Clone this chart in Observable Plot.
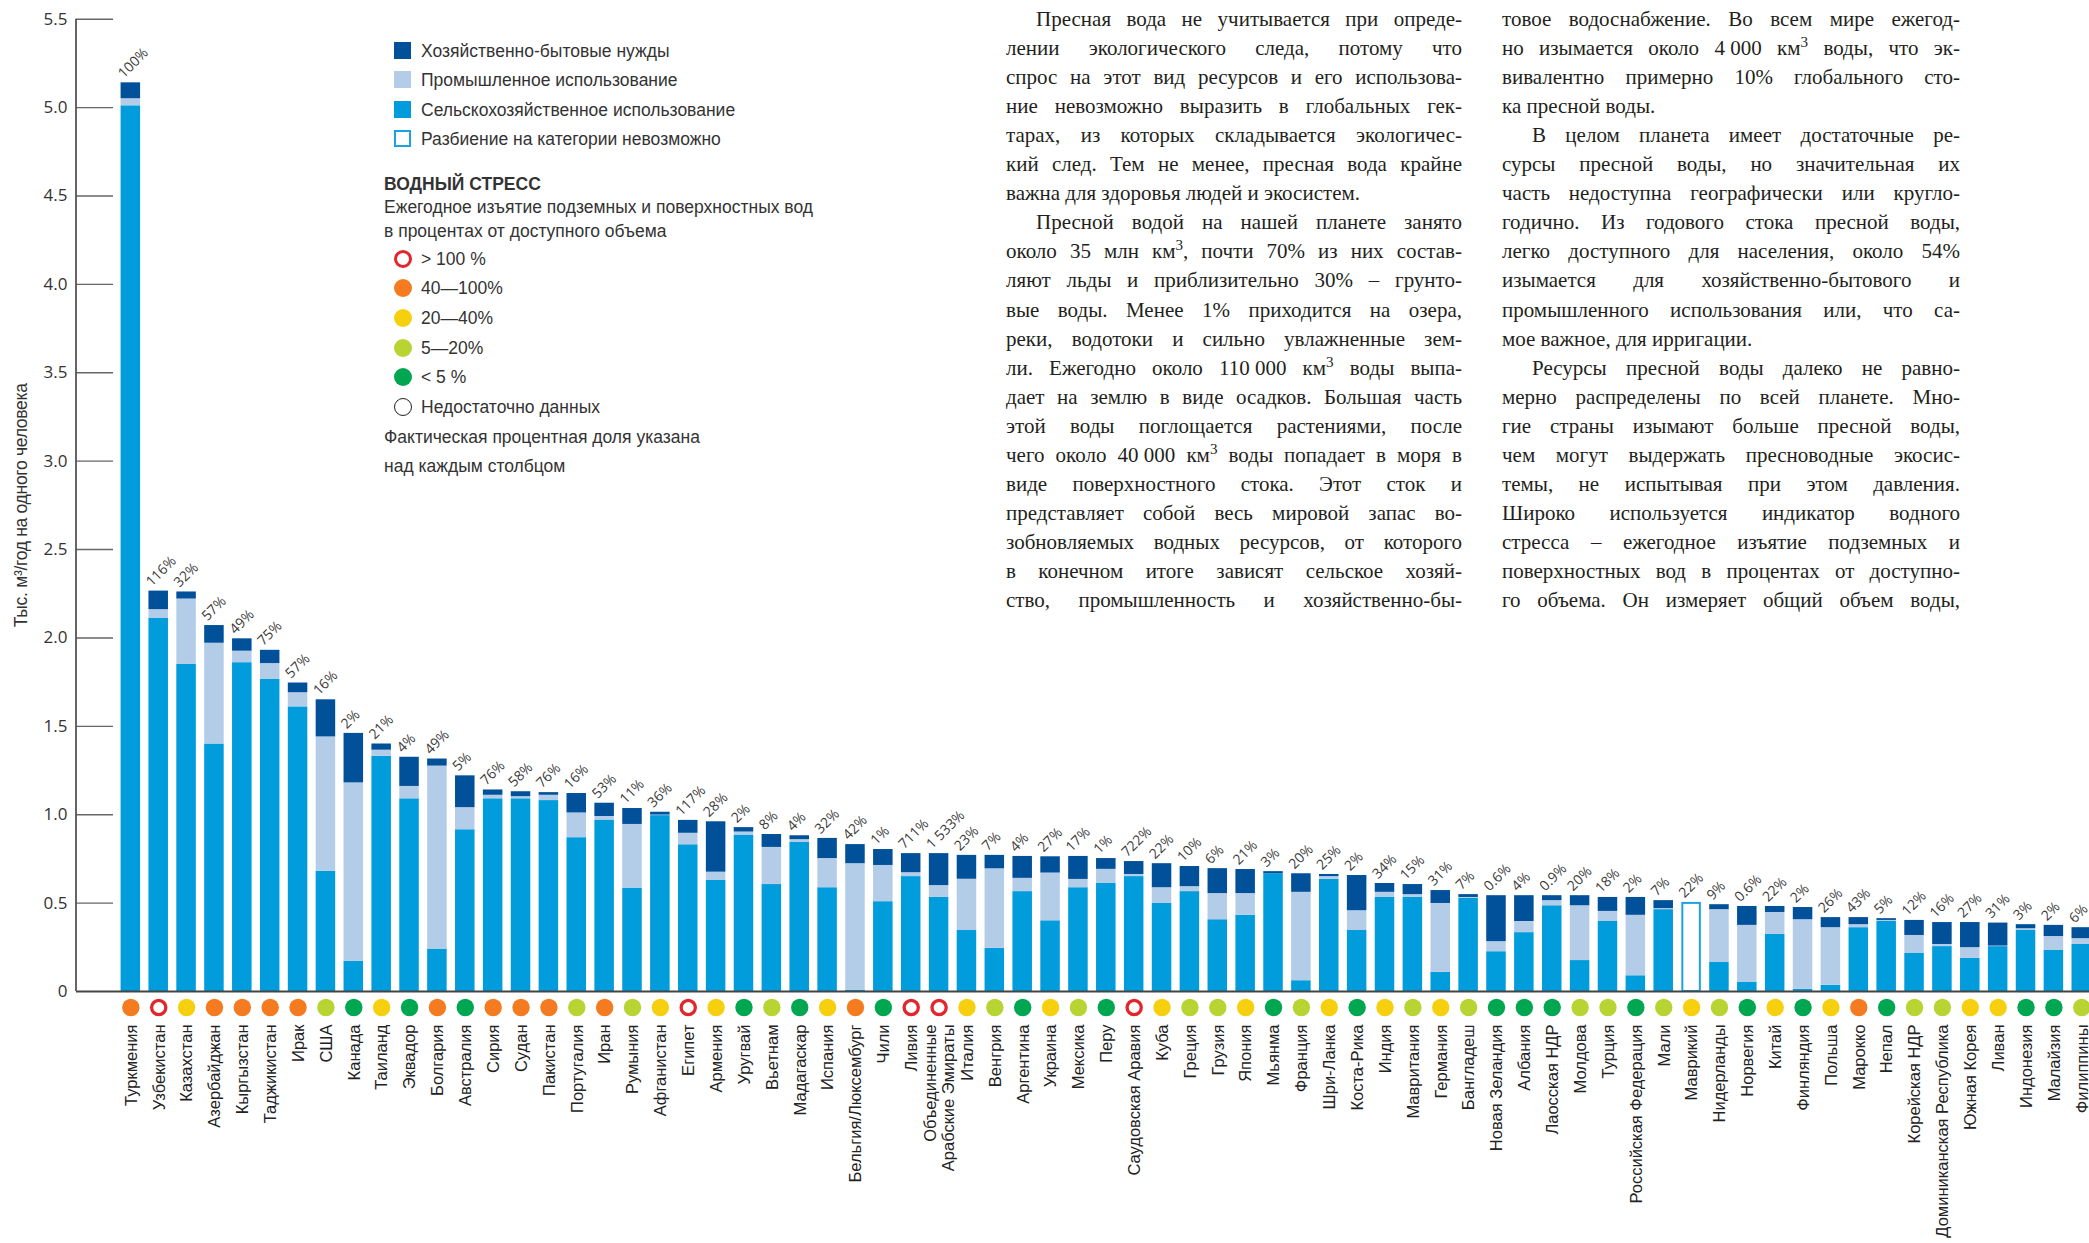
<!DOCTYPE html>
<html lang="ru">
<head>
<meta charset="utf-8">
<script src="https://cdn.jsdelivr.net/npm/d3@7"></script>
<script src="https://cdn.jsdelivr.net/npm/@observablehq/plot@0.6"></script>
<style>
  html, body { margin: 0; padding: 0; background: #fff; overflow: hidden; }
  #wrap { position: relative; width: 2089px; height: 1243px; overflow: hidden; background: #fff; }
  #chart { position: absolute; left: 0; top: 0; }
  .lg { position: absolute; font-family: "Liberation Sans", Arial, sans-serif; font-size: 17.5px; line-height: 22px; color: #333; white-space: nowrap; }
  .sw { position: absolute; width: 17px; height: 17px; box-sizing: border-box; }
  .cc { position: absolute; width: 18px; height: 18px; border-radius: 50%; box-sizing: border-box; }
  .col { position: absolute; font-family: "Liberation Serif", "Times New Roman", serif; font-size: 21px; line-height: 29.1px; color: #231f20; }
  .col div { text-align: justify; text-align-last: justify; white-space: nowrap; }
  .col div.ind { text-indent: 30px; }
  .col div.last { text-align: left; text-align-last: left; }
  .col sup { font-size: 0.72em; vertical-align: 0.5em; line-height: 0; }
  .nb { display: inline-block; white-space: pre; text-indent: 0; }
  g[aria-label="y-axis label"] text, g[aria-label="y-axis"] text.label {
    font-family: "Liberation Sans", Arial, sans-serif; font-size: 17.5px; letter-spacing: -0.3px; fill: #333;
  }
</style>
</head>
<body>
<div id="wrap">
  <div id="chart"></div>

  <div class="sw" style="left:394px;top:42px;background:#00509a"></div>
  <div class="lg" style="left:421px;top:40px">Хозяйственно-бытовые нужды</div>
  <div class="sw" style="left:394px;top:71px;background:#b3cde9"></div>
  <div class="lg" style="left:421px;top:69px">Промышленное использование</div>
  <div class="sw" style="left:394px;top:101px;background:#009cdc"></div>
  <div class="lg" style="left:421px;top:99px">Сельскохозяйственное использование</div>
  <div class="sw" style="left:394px;top:130px;border:2.5px solid #1aa3e0;background:#fff"></div>
  <div class="lg" style="left:421px;top:128px">Разбиение на категории невозможно</div>

  <div class="lg" style="left:384px;top:173px;font-weight:bold">ВОДНЫЙ СТРЕСС</div>
  <div class="lg" style="left:384px;top:196px">Ежегодное изъятие подземных и поверхностных вод</div>
  <div class="lg" style="left:384px;top:220px">в процентах от доступного объема</div>

  <div class="cc" style="left:394px;top:250px;border:3.3px solid #e2262c;background:#fff"></div>
  <div class="lg" style="left:421px;top:248px">&gt; 100 %</div>
  <div class="cc" style="left:394px;top:279px;background:#f47b20"></div>
  <div class="lg" style="left:421px;top:277px">40—100%</div>
  <div class="cc" style="left:394px;top:309px;background:#f6d00f"></div>
  <div class="lg" style="left:421px;top:307px">20—40%</div>
  <div class="cc" style="left:394px;top:339px;background:#b7d433"></div>
  <div class="lg" style="left:421px;top:337px">5—20%</div>
  <div class="cc" style="left:394px;top:368px;background:#00a650"></div>
  <div class="lg" style="left:421px;top:366px">&lt; 5 %</div>
  <div class="cc" style="left:394px;top:398px;border:1.6px solid #222;background:#fff"></div>
  <div class="lg" style="left:421px;top:396px">Недостаточно данных</div>
  <div class="lg" style="left:384px;top:426px">Фактическая процентная доля указана</div>
  <div class="lg" style="left:384px;top:455px">над каждым столбцом</div>

  <div class="col" style="left:1006px;top:4.6px;width:456px">
    <div class="ind">Пресная вода не учитывается при опреде-</div>
    <div>лении экологического следа, потому что</div>
    <div>спрос на этот вид ресурсов и его использова-</div>
    <div>ние невозможно выразить в глобальных гек-</div>
    <div>тарах, из которых складывается экологичес-</div>
    <div>кий след. Тем не менее, пресная вода крайне</div>
    <div class="last">важна для здоровья людей и экосистем.</div>
    <div class="ind">Пресной водой на нашей планете занято</div>
    <div>около 35 млн км<sup>3</sup>, почти 70% из них состав-</div>
    <div>ляют льды и приблизительно 30% – грунто-</div>
    <div>вые воды. Менее 1% приходится на озера,</div>
    <div>реки, водотоки и сильно увлажненные зем-</div>
    <div>ли. Ежегодно около <span class="nb">110 000</span> км<sup>3</sup> воды выпа-</div>
    <div>дает на землю в виде осадков. Большая часть</div>
    <div>этой воды поглощается растениями, после</div>
    <div>чего около <span class="nb">40 000</span> км<sup>3</sup> воды попадает в моря в</div>
    <div>виде поверхностного стока. Этот сток и</div>
    <div>представляет собой весь мировой запас во-</div>
    <div>зобновляемых водных ресурсов, от которого</div>
    <div>в конечном итоге зависят сельское хозяй-</div>
    <div>ство, промышленность и хозяйственно-бы-</div>
  </div>

  <div class="col" style="left:1502px;top:4.6px;width:458px">
    <div>товое водоснабжение. Во всем мире ежегод-</div>
    <div>но изымается около <span class="nb">4 000</span> км<sup>3</sup> воды, что эк-</div>
    <div>вивалентно примерно 10% глобального сто-</div>
    <div class="last">ка пресной воды.</div>
    <div class="ind">В целом планета имеет достаточные ре-</div>
    <div>сурсы пресной воды, но значительная их</div>
    <div>часть недоступна географически или кругло-</div>
    <div>годично. Из годового стока пресной воды,</div>
    <div>легко доступного для населения, около 54%</div>
    <div>изымается для хозяйственно-бытового и</div>
    <div>промышленного использования или, что са-</div>
    <div class="last">мое важное, для ирригации.</div>
    <div class="ind">Ресурсы пресной воды далеко не равно-</div>
    <div>мерно распределены по всей планете. Мно-</div>
    <div>гие страны изымают больше пресной воды,</div>
    <div>чем могут выдержать пресноводные экосис-</div>
    <div>темы, не испытывая при этом давления.</div>
    <div>Широко используется индикатор водного</div>
    <div>стресса – ежегодное изъятие подземных и</div>
    <div>поверхностных вод в процентах от доступно-</div>
    <div>го объема. Он измеряет общий объем воды,</div>
  </div>
</div>

<script>
// ---------- DATA ----------
const countries = [
  "Туркмения","Узбекистан","Казахстан","Азербайджан","Кыргызстан","Таджикистан","Ирак","США","Канада","Таиланд",
  "Эквадор","Болгария","Австралия","Сирия","Судан","Пакистан","Португалия","Иран","Румыния","Афганистан",
  "Египет","Армения","Уругвай","Вьетнам","Мадагаскар","Испания","Бельгия/Люксембург","Чили","Ливия","Объединенные Арабские Эмираты",
  "Италия","Венгрия","Аргентина","Украина","Мексика","Перу","Саудовская Аравия","Куба","Греция","Грузия",
  "Япония","Мьянма","Франция","Шри-Ланка","Коста-Рика","Индия","Мавритания","Германия","Бангладеш","Новая Зеландия",
  "Албания","Лаосская НДР","Молдова","Турция","Российская Федерация","Мали","Маврикий","Нидерланды","Норвегия","Китай",
  "Финляндия","Польша","Марокко","Непал","Корейская НДР","Доминиканская Республика","Южная Корея","Ливан","Индонезия","Малайзия",
  "Филиппины"
];

// thousand m3 per person per year
const agriculture = [
  5.01,2.11,1.85,1.40,1.86,1.765,1.61,0.68,0.17,1.33,
  1.09,0.24,0.915,1.09,1.09,1.08,0.87,0.97,0.585,0.995,
  0.83,0.63,0.885,0.605,0.843,0.587,0.008,0.508,0.65,0.532,
  0.345,0.244,0.565,0.40,0.587,0.611,0.65,0.498,0.565,0.406,
  0.431,0.666,0.061,0.634,0.345,0.532,0.532,0.108,0.526,0.225,
  0.333,0.485,0.175,0.396,0.089,0.463,null,0.164,0.051,0.323,
  0.012,0.035,0.361,0.396,0.215,0.254,0.187,0.254,0.345,0.232,
  0.266
];
const industry = [
  0.04,0.05,0.37,0.57,0.065,0.09,0.08,0.76,1.01,0.035,
  0.07,1.035,0.125,0.02,0.012,0.03,0.14,0.02,0.36,0.003,
  0.065,0.045,0.017,0.21,0.016,0.165,0.715,0.205,0.022,0.067,
  0.29,0.45,0.075,0.27,0.047,0.08,0.012,0.089,0.028,0.148,
  0.123,0.0,0.50,0.016,0.112,0.029,0.016,0.39,0.006,0.057,
  0.063,0.029,0.31,0.057,0.342,0.006,null,0.299,0.323,0.124,
  0.394,0.326,0.017,0.006,0.102,0.012,0.061,0.003,0.01,0.079,
  0.033
];
const domestic = [
  0.09,0.105,0.04,0.10,0.07,0.075,0.055,0.21,0.28,0.035,
  0.165,0.04,0.18,0.03,0.028,0.015,0.11,0.075,0.09,0.016,
  0.073,0.285,0.025,0.073,0.022,0.114,0.108,0.09,0.108,0.181,
  0.135,0.076,0.124,0.092,0.13,0.061,0.073,0.136,0.114,0.141,
  0.136,0.012,0.105,0.012,0.199,0.05,0.057,0.073,0.016,0.26,
  0.146,0.028,0.057,0.079,0.101,0.045,null,0.028,0.107,0.034,
  0.069,0.057,0.04,0.01,0.085,0.124,0.142,0.13,0.023,0.063,
  0.062
];
// total that cannot be split into categories
const unbrokenCountries = ["Маврикий"];
const unbrokenTotals = [0.504];

const stressLabels = [
  "100%","116%","32%","57%","49%","75%","57%","16%","2%","21%",
  "4%","49%","5%","76%","58%","76%","16%","53%","11%","36%",
  "117%","28%","2%","8%","4%","32%","42%","1%","711%","1 533%",
  "23%","7%","4%","27%","17%","1%","722%","22%","10%","6%",
  "21%","3%","20%","25%","2%","34%","15%","31%","7%","0.6%",
  "4%","0.9%","20%","18%","2%","7%","22%","9%","0.6%","22%",
  "2%","26%","43%","5%","12%","16%","27%","31%","3%","2%",
  "6%"
];
// stress classes: gt100, 40-100, 20-40, 5-20, lt5
const stressClass = [
  "40-100","gt100","20-40","40-100","40-100","40-100","40-100","5-20","lt5","20-40",
  "lt5","40-100","lt5","40-100","40-100","40-100","5-20","40-100","5-20","20-40",
  "gt100","20-40","lt5","5-20","lt5","20-40","40-100","lt5","gt100","gt100",
  "20-40","5-20","lt5","20-40","5-20","lt5","gt100","20-40","5-20","5-20",
  "20-40","lt5","5-20","20-40","lt5","20-40","5-20","20-40","5-20","lt5",
  "lt5","lt5","5-20","5-20","lt5","5-20","20-40","5-20","lt5","20-40",
  "lt5","20-40","40-100","lt5","5-20","5-20","20-40","20-40","lt5","lt5",
  "5-20"
];
const stressClasses = ["40-100","20-40","5-20","lt5"];
const stressColors = ["#f47b20","#f6d00f","#b7d433","#00a650"];

const categories = ["Сельскохозяйственное использование","Промышленное использование","Хозяйственно-бытовые нужды"];
const categoryColors = ["#009cdc","#b3cde9","#00509a"];

const yTicks = [0,0.5,1,1.5,2,2.5,3,3.5,4,4.5,5,5.5];
const yLabel = "Тыс. м³/год на одного человека";

// ---------- BUILD ----------
const series = [agriculture, industry, domestic];
const long = [];
countries.forEach((c, i) => {
  series.forEach((s, k) => { if (s[i] != null) long.push({c, cat: categories[k], v: s[i]}); });
});
const rows = countries.map((c, i) => {
  const u = unbrokenCountries.indexOf(c);
  const total = u >= 0 ? unbrokenTotals[u] : (agriculture[i] + industry[i] + domestic[i]);
  return {c, total, pct: stressLabels[i], cls: stressClass[i],
          label: c === "Объединенные Арабские Эмираты" ? "Объединенные\nАрабские Эмираты" : c};
});
const unbroken = unbrokenCountries.map((c, i) => ({c, v: unbrokenTotals[i]}));
const filled = rows.filter(d => d.cls !== "gt100");
const rings = rows.filter(d => d.cls === "gt100");

const W = 2089, H = 1243;
const mL = 76, mT = 18.7, mB = 252;

const axisLine = (index, scales, values, dimensions) => {
  const line = document.createElementNS("http://www.w3.org/2000/svg", "line");
  line.setAttribute("x1", dimensions.marginLeft);
  line.setAttribute("x2", dimensions.marginLeft);
  line.setAttribute("y1", scales.y(yTicks[yTicks.length - 1]));
  line.setAttribute("y2", scales.y(0));
  line.setAttribute("stroke", "#555");
  line.setAttribute("stroke-width", 1.8);
  return line;
};

const chart = Plot.plot({
  width: W, height: H,
  marginLeft: mL, marginRight: 0, marginTop: mT, marginBottom: mB,
  style: {fontFamily: "'Open Sans', sans-serif", fontSize: "17px", color: "#333", background: "white"},
  x: {type: "band", domain: countries, range: [116.4, 2095.2], paddingInner: 0.3, paddingOuter: 0.15, axis: null},
  y: {domain: [0, 5.5], ticks: yTicks, tickFormat: d => d === 0 ? "0" : d.toFixed(1), tickSize: 0, tickPadding: 9,
      label: yLabel, labelAnchor: "center", labelOffset: 62, labelArrow: false},
  color: {domain: categories, range: categoryColors},
  marks: [
    Plot.ruleY(yTicks.slice(1), {stroke: "#666", strokeWidth: 1.4, insetRight: W - mL - 37}),
    Plot.barY(long, {x: "c", y: "v", fill: "cat", order: categories}),
    Plot.barY(unbroken, {x: "c", y: "v", fill: "white", stroke: "#1aa3e0", strokeWidth: 2, insetLeft: 1, insetRight: 1, insetTop: 1}),
    Plot.ruleY([0], {stroke: "#444", strokeWidth: 2}),
    axisLine,
    Plot.text(rows, {x: "c", y: "total", text: "pct", rotate: -45, textAnchor: "start", lineAnchor: "bottom",
      dx: -7, dy: -4, fontSize: 14, fill: "#3a3a3a"}),
    Plot.dot(filled, {x: "c", y: d => 0, dy: 16, r: 8.7,
      fill: d => stressColors[stressClasses.indexOf(d.cls)], stroke: "none"}),
    Plot.dot(rings, {x: "c", y: d => 0, dy: 16, r: 7.1, fill: "white", stroke: "#e2262c", strokeWidth: 3.3}),
    Plot.text(rows, {x: "c", y: d => 0, text: "label", rotate: -90, textAnchor: "end", lineAnchor: "middle",
      dy: 33, fontSize: 16.5, lineHeight: 1.1, fontFamily: "'Liberation Sans', Arial, sans-serif", fill: "#222"})
  ]
});
document.getElementById("chart").appendChild(chart);
</script>
</body>
</html>
